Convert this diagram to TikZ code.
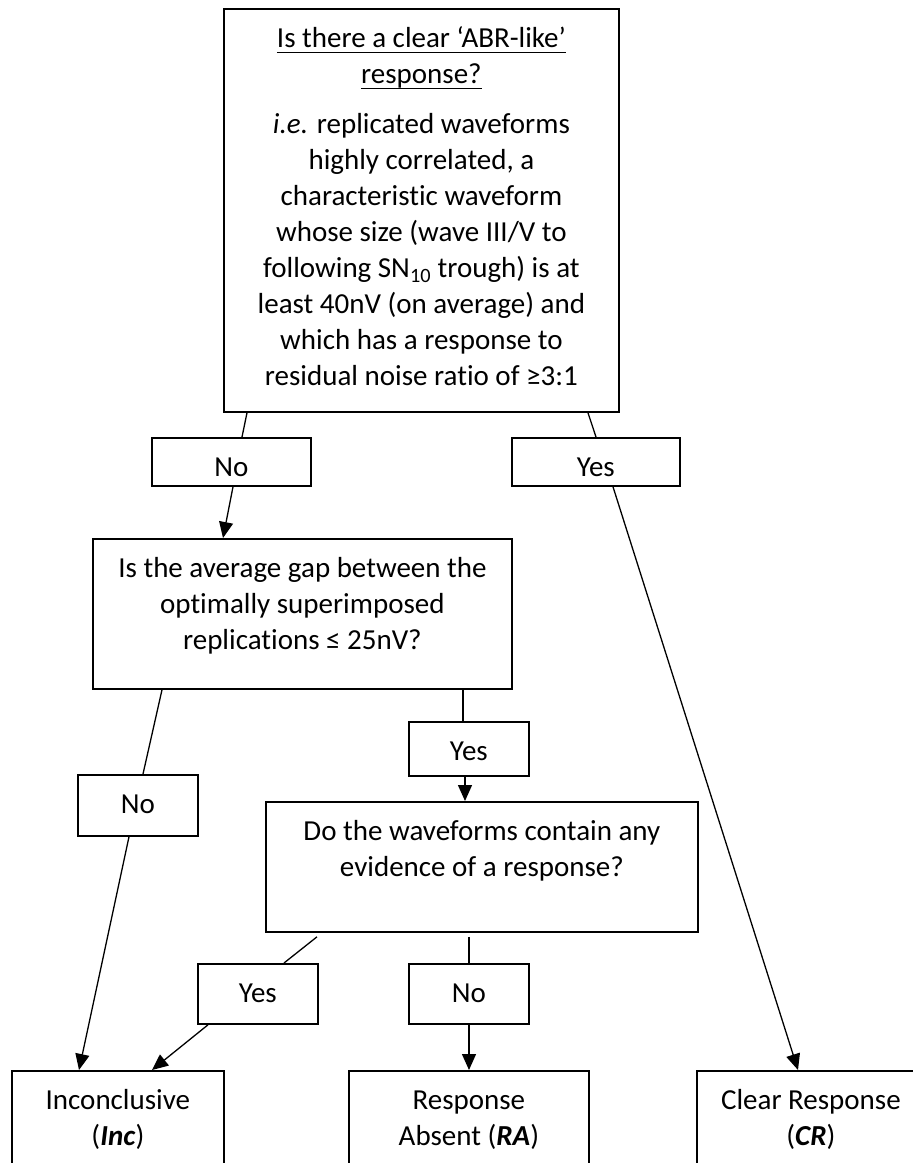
\documentclass[tikz,border=0pt]{standalone}
\usepackage{fontspec}
\setmainfont{Carlito}[Ligatures=NoCommon,Contextuals=NoAlternate]
\usetikzlibrary{arrows.meta}

\newcommand{\boxtxt}[3]{\parbox[t][#2][t]{#1}{\centering\rule{0pt}{39pt}#3}}
\newcommand{\undl}[1]{\leavevmode\setbox0\hbox{#1}\rlap{\rule[-5pt]{\wd0}{1.3pt}}\box0}

\tikzset{
  box/.style={draw, line width=1.8pt, inner sep=0pt, anchor=north west,
    font=\fontsize{29}{36}\selectfont},
  link/.style={line width=1.3pt},
  arr/.style={link, -{Triangle[length=16pt,width=14pt]}}
}

\begin{document}
\begin{tikzpicture}[x=1pt,y=-1pt]
\useasboundingbox (0,0) rectangle (913,1163);
\clip (0,0) rectangle (913,1163);

% questions
\node[box] (q1) at (223,8) {\boxtxt{395pt}{403pt}{\undl{Is there a clear ‘ABR-like’}\\
  \undl{response?}\\[14pt]
  \textit{i.e.} replicated waveforms\\ highly correlated, a\\ characteristic waveform\\
  whose size (wave III/V to\\ following SN\textsubscript{10} trough) is at\\
  least 40nV (on average) and\\ which has a response to\\ residual noise ratio of ≥3:1}};
\node[box] (q2) at (92,538) {\boxtxt{419pt}{150pt}{Is the average gap between the\\
  optimally superimposed\\ replications ≤ 25nV?}};
\node[box] (q3) at (265,801) {\boxtxt{432pt}{130pt}{Do the waveforms contain any\\
  evidence of a response?}};

% answers
\node[box] (no1) at (151,437) {\boxtxt{159pt}{48pt}{No}};
\node[box] (yes1) at (511,437) {\boxtxt{168pt}{48pt}{Yes}};
\node[box] (no2) at (77,774) {\boxtxt{120pt}{61pt}{No}};
\node[box] (yes2) at (408,721) {\boxtxt{120pt}{54pt}{Yes}};
\node[box] (yes3) at (197,963) {\boxtxt{120pt}{60pt}{Yes}};
\node[box] (no3) at (408,963) {\boxtxt{120pt}{60pt}{No}};

% outcomes
\node[box] (inc) at (11,1070) {\boxtxt{212pt}{130pt}{Inconclusive\\ (\textbf{\textit{Inc}})}};
\node[box] (ra) at (348,1070) {\boxtxt{240pt}{130pt}{Response\\ Absent (\textbf{\textit{RA}})}};
\node[box] (cr) at (696,1070) {\boxtxt{228pt}{130pt}{Clear Response\\ (\textbf{\textit{CR}})}};

% connectors
\draw[link] ([xshift=24pt]q1.south west) -- ([xshift=91pt]no1.north west);
\draw[link] ([xshift=365pt]q1.south west) -- ([xshift=85pt]yes1.north west);
\draw[arr] ([xshift=82pt]no1.south west) -- ([xshift=131pt]q2.north west);
\draw[arr] ([xshift=102pt]yes1.south west) -- ([xshift=102pt]cr.north west);
\draw[link] ([xshift=70pt]q2.south west) -- ([xshift=66pt]no2.north west);
\draw[link] ([xshift=371pt]q2.south west) -- ([xshift=55pt]yes2.north west);
\draw[arr] ([xshift=57pt]yes2.south west) -- ([xshift=200pt]q3.north west);
\draw[arr] ([xshift=52pt]no2.south west) -- ([xshift=68pt]inc.north west);
\draw[link] ([xshift=52pt,yshift=-4pt]q3.south west) -- ([xshift=87pt]yes3.north west);
\draw[link] ([xshift=204pt,yshift=-4pt]q3.south west) -- ([xshift=61pt]no3.north west);
\draw[arr] ([xshift=11pt]yes3.south west) -- ([xshift=141pt]inc.north west);
\draw[arr] ([xshift=61pt]no3.south west) -- ([xshift=121pt]ra.north west);
\end{tikzpicture}
\end{document}
